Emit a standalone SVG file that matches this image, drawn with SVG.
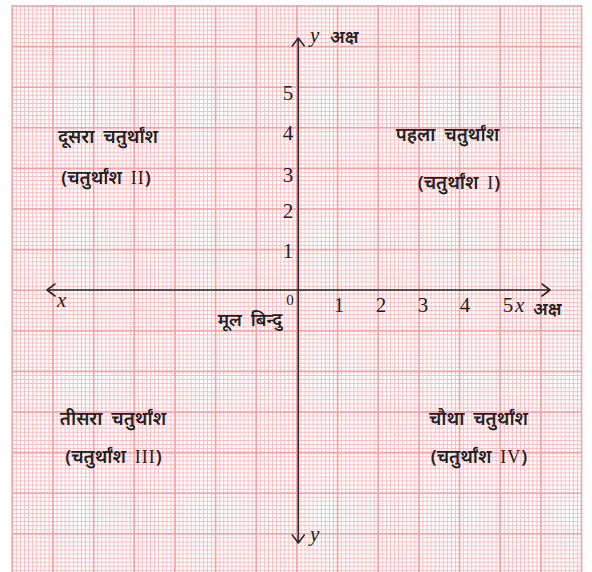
<svg xmlns="http://www.w3.org/2000/svg" width="592" height="572" viewBox="0 0 592 572">
<defs>
<style>
.minor{fill:none;stroke:#f8c0c4}
.major{fill:none;stroke:#f4a0a6}
.axis{fill:none;stroke:#2b2b2b;stroke-width:1.6;stroke-linecap:round;stroke-linejoin:round}
.num{font-family:"Liberation Serif","Times New Roman",serif;font-size:21px;fill:#222;text-anchor:middle}
.var{font-family:"Liberation Serif","Times New Roman",serif;font-style:italic;font-size:21px;fill:#222}
.hin{font-family:"Noto Sans","Noto Sans Devanagari",sans-serif;font-size:18.5px;font-weight:600;fill:#222;text-anchor:middle;word-spacing:4px}
.rom{font-family:"Liberation Serif","Times New Roman",serif;font-size:18px;font-weight:normal;letter-spacing:1px}
.hs{font-family:"Noto Sans","Noto Sans Devanagari",sans-serif;font-size:18px;font-weight:600;fill:#222}
</style>
</defs>
<rect width="592" height="572" fill="#fff"/>
<g id="grid">
<line class="minor" x1="11.8" y1="290" x2="582" y2="290" style="stroke-width:570;stroke-dasharray:1 3.066"/>
<line class="minor" x1="297" y1="5.5" x2="297" y2="574" style="stroke-width:570;stroke-dasharray:1 3.06"/>
<line class="major" x1="11.5" y1="290" x2="583" y2="290" style="stroke-width:570;stroke-dasharray:1.6 39.06"/>
<line class="major" x1="297" y1="5.2" x2="297" y2="574" style="stroke-width:570;stroke-dasharray:1.6 39"/>
</g>
<g id="axes">
<path class="axis" d="M47 290H550M55 284L47 290L55 296M542 284L550 290L542 296"/>
<path class="axis" d="M298.3 38V543M292.3 46L298.3 38L304.3 46M292.3 535L298.3 543L304.3 535"/>
</g>
<g id="axis-labels">
<text class="var" x="310" y="42">y</text>
<text class="hs" x="330" y="43">अक्ष</text>
<text class="var" x="515" y="312">x</text>
<text class="hs" x="533" y="315">अक्ष</text>
<text class="var" x="57" y="307">x</text>
<text class="var" x="310" y="541">y</text>
</g>
<g id="y-ticks">
<text class="num" x="288" y="100">5</text>
<text class="num" x="288" y="140">4</text>
<text class="num" x="288" y="182">3</text>
<text class="num" x="288" y="218">2</text>
<text class="num" x="288" y="258">1</text>
</g>
<g id="x-ticks">
<text class="num" x="339" y="312">1</text>
<text class="num" x="381" y="312">2</text>
<text class="num" x="423" y="312">3</text>
<text class="num" x="465" y="312">4</text>
<text class="num" x="508" y="312">5</text>
</g>
<g id="origin">
<text class="num" x="290" y="305" style="font-size:15px">0</text>
<text class="hin" x="250" y="326" style="font-size:18px">मूल बिन्दु</text>
</g>
<g id="quadrant-2">
<text class="hin" x="108" y="143">दूसरा चतुर्थांश</text>
<text class="hin" x="106" y="184">(चतुर्थांश <tspan class="rom">II</tspan>)</text>
</g>
<g id="quadrant-1">
<text class="hin" x="447.5" y="141">पहला चतुर्थांश</text>
<text class="hin" x="459" y="189">(चतुर्थांश <tspan class="rom">I</tspan>)</text>
</g>
<g id="quadrant-3">
<text class="hin" x="113" y="425">तीसरा चतुर्थांश</text>
<text class="hin" x="113.5" y="463">(चतुर्थांश <tspan class="rom">III</tspan>)</text>
</g>
<g id="quadrant-4">
<text class="hin" x="478.5" y="425">चौथा चतुर्थांश</text>
<text class="hin" x="479" y="463">(चतुर्थांश <tspan class="rom">IV</tspan>)</text>
</g>
</svg>
